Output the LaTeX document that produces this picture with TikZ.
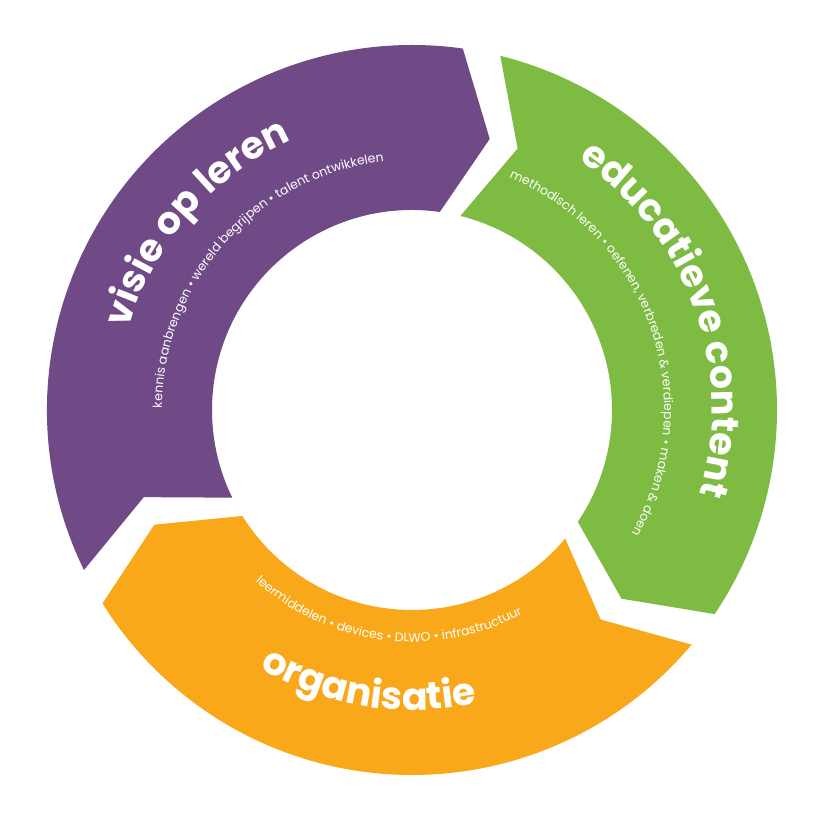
\documentclass[tikz,border=0pt]{standalone}
\usepackage{fontspec}
\setsansfont{Poppins}
\usepackage{xcolor}
\definecolor{VISIE}{HTML}{6F4A87}
\definecolor{CONTENT}{HTML}{7DBB42}
\definecolor{ORG}{HTML}{F9A81A}
\usetikzlibrary{decorations.text}
\newcommand{\ringR}{365}
\newcommand{\ringr}{200}
\newcommand{\ringm}{282}
% one arrow segment of the ring, clockwise from #2 to #3
\newcommand{\ringpart}[3]{%
  \fill[#1] (#2:\ringR) arc[start angle=#2, end angle=#3, radius=\ringR]
    -- (#3-8:\ringm) -- (#3:\ringr)
    arc[start angle=#3, end angle=#2, radius=\ringr]
    -- (#2-8:\ringm) -- cycle;}
\tikzset{
  bigText/.style={decorate, decoration={text along path, text align=center,
    text={|\sffamily\bfseries\fontsize{38}{38}\selectfont\color{white}|#1}}},
  smallText/.style={decorate, decoration={text along path, text align=center,
    text={|\sffamily\fontsize{12.5}{13}\selectfont\color{white}|#1}}}
}
\begin{document}
\begin{tikzpicture}[x=1pt,y=1pt]
  \useasboundingbox (0,0) rectangle (835,819);
  \begin{scope}[shift={(412,409)}]
    \ringpart{VISIE}{206}{82}
    \ringpart{CONTENT}{76}{-34}
    \ringpart{ORG}{-40}{-148}
    % labels
    \path[bigText={visie op leren}] (200:295) arc[start angle=200, end angle=78, radius=295];
    \path[smallText={kennis aanbrengen {\textbullet} wereld begrijpen {\textbullet} talent ontwikkelen}] (200:250) arc[start angle=200, end angle=76, radius=250];
    \path[bigText={educatieve content}] (80:300) arc[start angle=80, end angle=-40, radius=300];
    \path[smallText={methodisch leren {\textbullet} oefenen, verbreden {\&} verdiepen {\textbullet} maken {\&} doen}] (80:252) arc[start angle=80, end angle=-42, radius=252];
    \path[bigText={organisatie}] (210:300) arc[start angle=210, end angle=312, radius=300];
    \path[smallText={leermiddelen {\textbullet} devices {\textbullet} DLWO {\textbullet} infrastructuur}] (210:232) arc[start angle=210, end angle=316, radius=232];
  \end{scope}
\end{tikzpicture}
\end{document}
